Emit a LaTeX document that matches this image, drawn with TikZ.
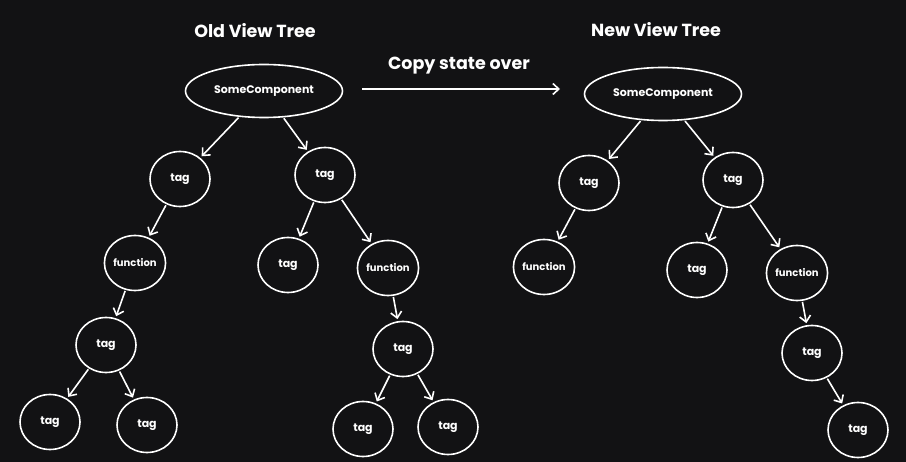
\documentclass[tikz,border=0pt]{standalone}
\usepackage{fontspec}
\setmainfont{Poppins}
\usetikzlibrary{shapes.geometric,arrows.meta}
\definecolor{boardbg}{HTML}{121214}
\begin{document}
\begin{tikzpicture}[x=1pt, y=-1pt,
    vnode/.style={ellipse, draw=white, line width=1.6pt, text=white, inner sep=0pt, minimum width=60pt, minimum height=55pt, font=\fontsize{11}{13}\selectfont\bfseries},
    funnode/.style={vnode, font=\fontsize{10}{12}\selectfont\bfseries},
    rootnode/.style={vnode, minimum width=157pt, minimum height=53pt, font=\fontsize{11}{13}\selectfont\bfseries},
    titletext/.style={text=white, font=\fontsize{17.5}{20}\selectfont\bfseries},
    edge/.style={-{Straight Barb[length=6pt, width=11pt, line width=1.6pt]}, white, line width=1.6pt, shorten >=2pt, shorten <=1pt}]
    % background
    \fill[boardbg] (0,0) rectangle (906,462);
    \useasboundingbox (0,0) rectangle (906,462);

    % titles
    \node[titletext] (oldtitle) at (255,31) {Old View Tree};
    \node[titletext] (newtitle) at (656,30) {New View Tree};
    \node[titletext] (copytext) at (459,66) {Copy state over};

    % Old view tree
    \node[rootnode] (oroot) at (264,91) {SomeComponent};
    \node[vnode] (otagl) at (180,179) {tag};
    \node[vnode] (otagr) at (325,175) {tag};
    \node[funnode] (ofunl) at (135,263) {function};
    \node[vnode] (otagll) at (106,345) {tag};
    \node[vnode] (oleafa) at (50,422) {tag};
    \node[vnode] (oleafb) at (147,425) {tag};
    \node[vnode] (otagrm) at (288,265) {tag};
    \node[funnode] (ofunr) at (388,268) {function};
    \node[vnode] (otagrr) at (403,349) {tag};
    \node[vnode] (oleafc) at (363,429) {tag};
    \node[vnode] (oleafd) at (448,427) {tag};

    % New view tree
    \node[rootnode] (nroot) at (663,94) {SomeComponent};
    \node[vnode] (ntagl) at (589,183) {tag};
    \node[funnode] (nfunl) at (544,267) {function};
    \node[vnode] (ntagr) at (733,180) {tag};
    \node[vnode] (ntagrm) at (697,270) {tag};
    \node[funnode] (nfunr) at (797,273) {function};
    \node[vnode] (ntagrr) at (812,353) {tag};
    \node[vnode] (nleaf) at (858,430) {tag};

    % copy arrow
    \coordinate (copys) at (362,89);
    \coordinate (copye) at (560,89);
    \draw[edge, shorten <=0pt, shorten >=0pt] (copys) -- (copye);

    % old edges
    \draw[edge] (oroot) -- (otagl);
    \draw[edge] (oroot) -- (otagr);
    \draw[edge] (otagl) -- (ofunl);
    \draw[edge] (ofunl) -- (otagll);
    \draw[edge] (otagll) -- (oleafa);
    \draw[edge] (otagll) -- (oleafb);
    \draw[edge] (otagr) -- (otagrm);
    \draw[edge] (otagr) -- (ofunr);
    \draw[edge] (ofunr) -- (otagrr);
    \draw[edge] (otagrr) -- (oleafc);
    \draw[edge] (otagrr) -- (oleafd);

    % new edges
    \draw[edge] (nroot) -- (ntagl);
    \draw[edge] (nroot) -- (ntagr);
    \draw[edge] (ntagl) -- (nfunl);
    \draw[edge] (ntagr) -- (ntagrm);
    \draw[edge] (ntagr) -- (nfunr);
    \draw[edge] (nfunr) -- (ntagrr);
    \draw[edge] (ntagrr) -- (nleaf);
\end{tikzpicture}
\end{document}
